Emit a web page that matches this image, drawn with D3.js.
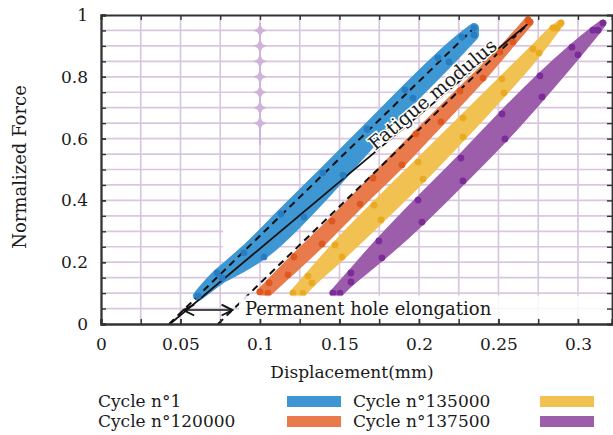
<!DOCTYPE html>
<html>
<head>
<meta charset="utf-8">
<script src="https://cdn.jsdelivr.net/npm/d3@7"></script>
<style>
  body { margin: 0; background: #fff; }
  svg { display: block; }
  text { font-family: "DejaVu Serif", serif; fill: #1a1a1a; }
</style>
</head>
<body>
<svg id="chart" width="613" height="435"></svg>
<script>
// Hysteresis loops of normalized force vs. displacement, one band per cycle
const cycleNames = ["Cycle n°1", "Cycle n°120000", "Cycle n°135000", "Cycle n°137500"];

// [displacement (mm), normalized force] along the left (loading) edge of each loop
const cycle1Left = [[0.0610,0.091],[0.0730,0.165],[0.0899,0.230],[0.1132,0.356],[0.1396,0.489],[0.1673,0.631],[0.1912,0.757],[0.2119,0.861],[0.2270,0.929],[0.2346,0.958]];
const cycle1Right = [[0.0761,0.149],[0.1025,0.217],[0.1277,0.346],[0.1522,0.482],[0.1730,0.608],[0.1962,0.731],[0.2189,0.848],[0.2346,0.935]];

const cycle120000Left = [[0.1000,0.104],[0.1057,0.133],[0.1214,0.217],[0.1453,0.333],[0.1711,0.472],[0.1981,0.615],[0.2258,0.754],[0.2509,0.880],[0.2686,0.984]];
const cycle120000Right = [[0.1050,0.100],[0.1176,0.159],[0.1390,0.259],[0.1629,0.388],[0.1893,0.515],[0.2138,0.654],[0.2403,0.796],[0.2591,0.913],[0.2698,0.977]];

const cycle135000Left = [[0.1208,0.100],[0.1302,0.155],[0.1472,0.256],[0.1717,0.385],[0.1994,0.524],[0.2277,0.667],[0.2522,0.793],[0.2717,0.890],[0.2843,0.958],[0.2893,0.974]];
const cycle135000Right = [[0.1270,0.100],[0.1327,0.133],[0.1516,0.217],[0.1761,0.337],[0.2025,0.469],[0.2277,0.605],[0.2535,0.748],[0.2755,0.877],[0.2868,0.958]];

const cycle137500Left = [[0.1459,0.100],[0.1572,0.165],[0.1748,0.269],[0.1994,0.401],[0.2264,0.537],[0.2522,0.680],[0.2761,0.803],[0.2962,0.896],[0.3094,0.951],[0.3157,0.974]];
const cycle137500Right = [[0.1503,0.100],[0.1572,0.136],[0.1767,0.214],[0.2019,0.330],[0.2277,0.463],[0.2541,0.599],[0.2774,0.735],[0.3000,0.871],[0.3126,0.951]];

// Straight reference lines
const fatigueModulusLine = [[0.0434,0.0],[0.2698,0.977]];
const firstCycleTangent = [[0.0428,0.0],[0.2352,0.961]];
const lateCycleTangent = [[0.0736,0.0],[0.2698,0.977]];

// Axis ticks
const xTickValues = [0, 0.05, 0.1, 0.15, 0.2, 0.25, 0.3];
const xTickLabels = ["0", "0.05", "0.1", "0.15", "0.2", "0.25", "0.3"];
const yTickValues = [0, 0.2, 0.4, 0.6, 0.8, 1];
const yTickLabels = ["0", "0.2", "0.4", "0.6", "0.8", "1"];
const xMinorValues = d3.range(0, 0.3251, 0.025);
const yMinorValues = d3.range(0, 1.0001, 0.05);

// Marker column drawn at displacement 0.1
const markerColumnX = 0.1;
const markerColumnLevels = [0.65, 0.7, 0.75, 0.8, 0.85, 0.9, 0.95];

// Styles
const bandColors = ["#3e97d3", "#e87a4c", "#f1c152", "#9c5dab"];
const dotColors = ["#2a7cc0", "#df5820", "#e9aa22", "#7b2c98"];
const bandWidths = [10, 7, 7, 7];

const series = [
  { left: cycle1Left, right: cycle1Right },
  { left: cycle120000Left, right: cycle120000Right },
  { left: cycle135000Left, right: cycle135000Right },
  { left: cycle137500Left, right: cycle137500Right }
];

const svg = d3.select("#chart");
const plot = { left: 101, right: 612, top: 15, bottom: 324 };

const x = d3.scaleLinear().domain([0, 0.3214]).range([plot.left, plot.right]);
const y = d3.scaleLinear().domain([0, 1]).range([plot.bottom, plot.top]);

svg.append("defs").append("clipPath").attr("id", "plotClip")
  .append("rect")
  .attr("x", plot.left).attr("y", plot.top - 2)
  .attr("width", plot.right - plot.left).attr("height", plot.bottom - plot.top + 2);

// Grid
const grid = svg.append("g").attr("stroke", "#d9c7df").attr("stroke-width", 1.7);
grid.selectAll("line.v").data(xMinorValues.filter(v => v > 0)).join("line")
  .attr("x1", d => x(d)).attr("x2", d => x(d))
  .attr("y1", plot.top).attr("y2", plot.bottom);
grid.selectAll("line.h").data(yMinorValues.filter(v => v > 0 && v < 1)).join("line")
  .attr("x1", plot.left).attr("x2", plot.right)
  .attr("y1", d => y(d)).attr("y2", d => y(d));

// Blank patch in the grid
svg.append("rect").attr("x", x(0.0768)).attr("y", y(0.33))
  .attr("width", x(0.0994) - x(0.0768)).attr("height", y(0.165) - y(0.33))
  .attr("fill", "#fff");

// Marker column
const column = svg.append("g").attr("fill", "#cfb3db").attr("stroke", "#cfb3db");
column.append("line")
  .attr("x1", x(markerColumnX)).attr("x2", x(markerColumnX))
  .attr("y1", y(0.58)).attr("y2", y(0.975)).attr("stroke-width", 2);
column.selectAll("path").data(markerColumnLevels).join("path")
  .attr("stroke", "none")
  .attr("transform", d => `translate(${x(markerColumnX)},${y(d)})`)
  .attr("d", "M0,-7 L2.4,-2 L7,0 L2.4,2 L0,7 L-2.4,2 L-7,0 L-2.4,-2Z");

const chartArea = svg.append("g").attr("clip-path", "url(#plotClip)");

// Bands: smoothed loading edge, then smoothed unloading edge back down
const lineGen = d3.line().x(d => x(d[0])).y(d => y(d[1]));
const smoothGen = d3.line().x(d => x(d[0])).y(d => y(d[1])).curve(d3.curveBasis);
series.forEach((s, i) => {
  const up = smoothGen(s.left);
  const down = smoothGen(s.right.slice().reverse()).replace(/^M/, "L");
  chartArea.append("path")
    .attr("d", up + down + "Z")
    .attr("fill", bandColors[i])
    .attr("stroke", bandColors[i])
    .attr("stroke-width", bandWidths[i])
    .attr("stroke-linejoin", "round");
});

// Reference lines
chartArea.append("path").attr("d", lineGen(fatigueModulusLine))
  .attr("stroke", "#111").attr("stroke-width", 1.8).attr("fill", "none");
chartArea.append("path").attr("d", lineGen(firstCycleTangent))
  .attr("stroke", "#111").attr("stroke-width", 2).attr("stroke-dasharray", "7,5").attr("fill", "none");
chartArea.append("path").attr("d", lineGen(lateCycleTangent))
  .attr("stroke", "#111").attr("stroke-width", 2).attr("stroke-dasharray", "7,5").attr("fill", "none");

// Dots
series.forEach((s, i) => {
  chartArea.append("g").selectAll("circle")
    .data(s.left.concat(s.right)).join("circle")
    .attr("cx", d => x(d[0])).attr("cy", d => y(d[1]))
    .attr("r", 3.4).attr("fill", dotColors[i]);
});

// Label strip behind the elongation text
svg.append("rect")
  .attr("x", 239).attr("y", y(0.092))
  .attr("width", plot.right - 239).attr("height", y(0.018) - y(0.092))
  .attr("fill", "#fff").attr("opacity", 0.85);

// Axes
const xAxisMinor = d3.axisBottom(x).tickValues(xMinorValues).tickSize(-5).tickFormat("");
const xAxis = d3.axisBottom(x).tickValues(xTickValues).tickSize(-5).tickPadding(14)
  .tickFormat((d, i) => xTickLabels[i]);
const yAxisMinor = d3.axisLeft(y).tickValues(yMinorValues).tickSize(-5).tickFormat("");
const yAxis = d3.axisLeft(y).tickValues(yTickValues).tickSize(-5).tickPadding(13)
  .tickFormat((d, i) => yTickLabels[i]);
const topAxis = d3.axisTop(x).tickValues(xMinorValues).tickSize(-5).tickFormat("");
const rightAxis = d3.axisRight(y).tickValues(yMinorValues).tickSize(-5).tickFormat("");

function styleAxis(g) {
  g.select(".domain").attr("stroke", "#333").attr("stroke-width", 1.8);
  g.selectAll(".tick line").attr("stroke", "#333").attr("stroke-width", 1.4);
  g.selectAll(".tick text").attr("font-size", 17).attr("font-family", "DejaVu Serif").attr("fill", "#1a1a1a");
}
svg.append("g").attr("transform", `translate(0,${plot.bottom})`).call(xAxisMinor).call(styleAxis);
svg.append("g").attr("transform", `translate(0,${plot.bottom})`).call(xAxis).call(styleAxis);
svg.append("g").attr("transform", `translate(${plot.left},0)`).call(yAxisMinor).call(styleAxis);
svg.append("g").attr("transform", `translate(${plot.left},0)`).call(yAxis).call(styleAxis);
svg.append("g").attr("transform", `translate(0,${plot.top})`).call(topAxis).call(styleAxis);
svg.append("g").attr("transform", `translate(${plot.right},0)`).call(rightAxis).call(styleAxis);

// Axis titles
svg.append("text")
  .attr("x", 352).attr("y", 378).attr("text-anchor", "middle")
  .attr("font-size", 17).text("Displacement(mm)");
svg.append("text")
  .attr("transform", "translate(26,167) rotate(-90)").attr("text-anchor", "middle")
  .attr("font-size", 18).text("Normalized Force");

// Fatigue modulus annotation, laid along its line
const p0 = [x(fatigueModulusLine[0][0]), y(fatigueModulusLine[0][1])];
const p1 = [x(fatigueModulusLine[1][0]), y(fatigueModulusLine[1][1])];
const angle = Math.atan2(p1[1] - p0[1], p1[0] - p0[0]) * 180 / Math.PI;
const tAnchor = 0.57;
svg.append("text")
  .attr("transform", `translate(${p0[0] + (p1[0] - p0[0]) * tAnchor},${p0[1] + (p1[1] - p0[1]) * tAnchor - 1}) rotate(${angle})`)
  .attr("font-size", 19)
  .attr("stroke", "#fff").attr("stroke-width", 3).attr("paint-order", "stroke")
  .text("Fatigue modulus");

// Permanent hole elongation arrow between the two tangents
const arrowForce = 0.045;
const tangentAt = (line, f) => line[0][0] + (line[1][0] - line[0][0]) * (f - line[0][1]) / (line[1][1] - line[0][1]);
const defs = svg.select("defs");
["arrowEnd", "arrowStart"].forEach((id, k) => {
  defs.append("marker").attr("id", id)
    .attr("viewBox", "0 0 10 10").attr("refX", k === 0 ? 9 : 1).attr("refY", 5)
    .attr("markerWidth", 9).attr("markerHeight", 9).attr("orient", "auto")
    .append("path")
    .attr("d", k === 0 ? "M1,1 L9,5 L1,9" : "M9,1 L1,5 L9,9")
    .attr("fill", "none").attr("stroke", "#111").attr("stroke-width", 1.4);
});
svg.append("line")
  .attr("x1", x(tangentAt(firstCycleTangent, arrowForce))).attr("x2", x(tangentAt(lateCycleTangent, arrowForce)))
  .attr("y1", y(arrowForce)).attr("y2", y(arrowForce))
  .attr("stroke", "#111").attr("stroke-width", 1.5)
  .attr("marker-start", "url(#arrowStart)").attr("marker-end", "url(#arrowEnd)");
svg.append("text")
  .attr("x", 245).attr("y", 315).attr("font-size", 18)
  .text("Permanent hole elongation");

// Legend
const legendCols = [
  { textX: 98, swatchX: 287 },
  { textX: 353, swatchX: 540 }
];
const legendRows = [407, 427];
cycleNames.forEach((name, i) => {
  const col = legendCols[Math.floor(i / 2)];
  const rowY = legendRows[i % 2];
  svg.append("text").attr("x", col.textX).attr("y", rowY).attr("font-size", 17).text(name);
  svg.append("rect")
    .attr("x", col.swatchX).attr("y", rowY - 11)
    .attr("width", 54).attr("height", 11)
    .attr("fill", bandColors[i]);
});
</script>
</body>
</html>
